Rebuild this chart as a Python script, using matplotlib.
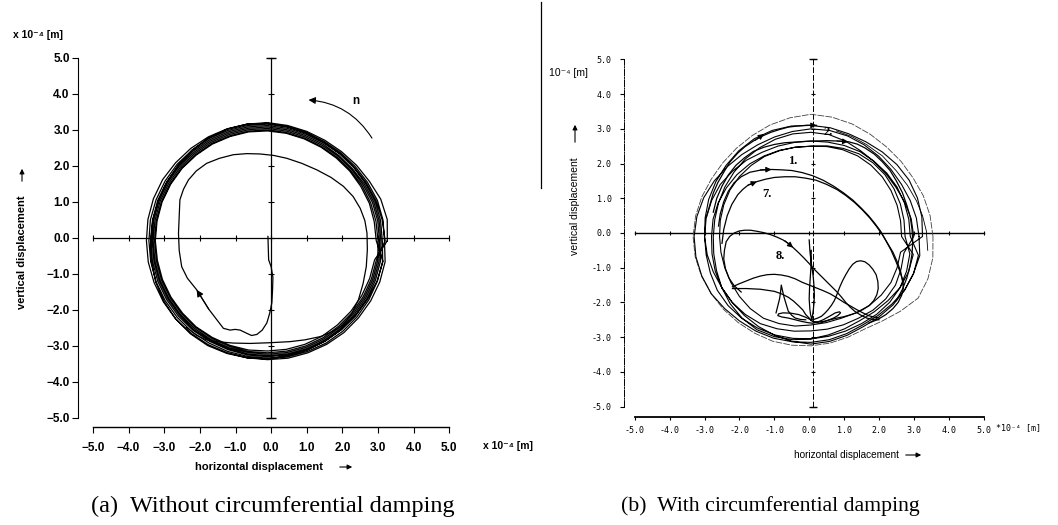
import numpy as np
import matplotlib.pyplot as plt
from matplotlib.lines import Line2D
from matplotlib.patches import FancyArrowPatch

plt.rcParams['font.family'] = ['Liberation Sans', 'DejaVu Sans']

W, H = 1058, 525

# ---------------- data (units of 1e-4 m) ----------------
ticks = [-5, -4, -3, -2, -1, 0, 1, 2, 3, 4, 5]
tick_a = ['\u22125.0', '\u22124.0', '\u22123.0', '\u22122.0', '\u22121.0', '0.0',
          '1.0', '2.0', '3.0', '4.0', '5.0']
tick_b = ['-5.0', '-4.0', '-3.0', '-2.0', '-1.0', '0.0', '1.0', '2.0', '3.0', '4.0', '5.0']

# orbit loops, read as radius at fixed angles (deg) around the orbit centre
loop_deg = [0, 10, 20, 30, 40, 50, 60, 70, 80, 90, 100, 110,
            120, 130, 140, 150, 160, 170, 180, 190, 200, 210, 220, 230,
            240, 250, 260, 270, 280, 290, 300, 310, 320, 330, 340, 350]

# (a) without circumferential damping
center_a = (-0.1, -0.08)
loops_a = [
    [3.36, 3.41, 3.38, 3.30, 3.26, 3.23, 3.22, 3.23, 3.25, 3.28, 3.29, 3.31,
     3.33, 3.35, 3.37, 3.40, 3.41, 3.41, 3.40, 3.40, 3.39, 3.38, 3.37, 3.35,
     3.33, 3.31, 3.30, 3.30, 3.31, 3.31, 3.32, 3.33, 3.33, 3.34, 3.35, 3.35],
    [3.28, 3.29, 3.28, 3.24, 3.21, 3.19, 3.18, 3.19, 3.21, 3.24, 3.25, 3.26,
     3.28, 3.29, 3.31, 3.32, 3.33, 3.34, 3.33, 3.33, 3.33, 3.32, 3.31, 3.30,
     3.28, 3.27, 3.26, 3.26, 3.27, 3.27, 3.28, 3.28, 3.28, 3.28, 3.28, 3.28],
    [3.22, 3.22, 3.21, 3.18, 3.16, 3.15, 3.14, 3.15, 3.17, 3.20, 3.21, 3.22,
     3.24, 3.25, 3.26, 3.27, 3.28, 3.28, 3.28, 3.28, 3.28, 3.27, 3.26, 3.25,
     3.23, 3.22, 3.22, 3.22, 3.22, 3.22, 3.22, 3.22, 3.22, 3.22, 3.22, 3.22],
    [3.18, 3.18, 3.17, 3.14, 3.11, 3.10, 3.10, 3.11, 3.13, 3.16, 3.17, 3.18,
     3.20, 3.21, 3.23, 3.24, 3.25, 3.25, 3.24, 3.24, 3.24, 3.23, 3.22, 3.22,
     3.20, 3.19, 3.19, 3.19, 3.19, 3.19, 3.19, 3.18, 3.18, 3.18, 3.18, 3.18],
    [3.14, 3.14, 3.13, 3.10, 3.08, 3.07, 3.06, 3.07, 3.09, 3.12, 3.13, 3.14,
     3.16, 3.17, 3.19, 3.20, 3.21, 3.21, 3.21, 3.21, 3.21, 3.20, 3.19, 3.18,
     3.17, 3.16, 3.15, 3.15, 3.15, 3.15, 3.15, 3.14, 3.14, 3.14, 3.14, 3.14],
    [3.10, 3.09, 3.08, 3.06, 3.04, 3.03, 3.02, 3.03, 3.05, 3.08, 3.09, 3.10,
     3.12, 3.13, 3.15, 3.16, 3.17, 3.17, 3.17, 3.17, 3.17, 3.16, 3.15, 3.14,
     3.13, 3.12, 3.12, 3.11, 3.11, 3.11, 3.11, 3.10, 3.10, 3.10, 3.10, 3.10],
    [3.30, 3.27, 3.24, 3.20, 3.17, 3.16, 3.16, 3.19, 3.22, 3.26, 3.29, 3.30,
     3.30, 3.29, 3.27, 3.26, 3.26, 3.27, 3.28, 3.31, 3.34, 3.36, 3.37, 3.37,
     3.36, 3.33, 3.30, 3.28, 3.25, 3.23, 3.22, 3.22, 3.23, 3.24, 3.27, 3.29],
    [3.05, 3.04, 3.04, 3.02, 3.01, 3.00, 3.00, 3.01, 3.03, 3.05, 3.07, 3.08,
     3.10, 3.11, 3.13, 3.14, 3.15, 3.15, 3.15, 3.14, 3.14, 3.13, 3.12, 3.12,
     3.10, 3.09, 3.08, 3.06, 3.06, 3.06, 3.06, 3.05, 3.05, 3.05, 3.05, 3.05],
]
start_x_a = [-0.09, -0.07, 0.0, 0.05, 0.04, 0.02, -0.04, -0.12, -0.25, -0.4, -0.55,
             -0.68, -0.87, -1.01, -1.15, -1.34, -1.75, -2.09, -2.35, -2.51, -2.58,
             -2.6, -2.58, -2.56, -2.46, -2.32, -2.1, -1.81, -1.45, -1.06, -0.68, -0.31,
             0.07, 0.44, 0.86, 1.28, 1.68, 2.03, 2.3, 2.5, 2.63, 2.69, 2.7, 2.67, 2.58,
             2.45, 2.26, 2.03, 1.72, 1.38, 0.95, 0.53, -0.03, -0.59, -1.06, -1.53,
             -1.85, -2.1, -2.38]
start_y_a = [0.04, -0.61, -0.8, -1.1, -1.44, -1.8, -2.09, -2.36, -2.56, -2.68, -2.71,
             -2.65, -2.56, -2.54, -2.56, -2.51, -1.98, -1.44, -1.12, -0.8, -0.35,
             0.13, 0.6, 1.06, 1.35, 1.61, 1.86, 2.07, 2.21, 2.31, 2.34, 2.33,
             2.29, 2.21, 2.07, 1.89, 1.68, 1.43, 1.15, 0.82, 0.48, 0.13, -0.33, -0.8,
             -1.27, -1.72, -2.1, -2.42, -2.6, -2.74, -2.83, -2.88, -2.91, -2.93, -2.92,
             -2.88, -2.82, -2.7, -2.48]
arrow_a = [(-1.75, -1.98), (-2.09, -1.44)]
n_arc = [(2.83, 2.77), (1.05, 3.83)]

# (b) with circumferential damping
center_b = (0.05, -0.1)
outer_b = [3.50, 3.47, 3.43, 3.38, 3.37, 3.37, 3.40, 3.45, 3.49, 3.52, 3.47, 3.42,
           3.36, 3.32, 3.30, 3.30, 3.33, 3.36, 3.38, 3.37, 3.34, 3.30, 3.27, 3.24,
           3.22, 3.21, 3.18, 3.15, 3.12, 3.09, 3.08, 3.18, 3.35, 3.55, 3.57, 3.55]
loops_b = [
    [3.10, 3.07, 3.03, 3.00, 3.00, 3.02, 3.05, 3.08, 3.10, 3.10, 3.07, 3.05,
     3.05, 3.08, 3.13, 3.20, 3.27, 3.32, 3.35, 3.35, 3.33, 3.30, 3.23, 3.18,
     3.15, 3.12, 3.08, 3.05, 3.02, 2.98, 2.95, 2.98, 3.03, 3.10, 3.13, 3.13],
    [2.85, 2.85, 2.85, 2.85, 2.84, 2.82, 2.82, 2.79, 2.76, 2.75, 2.75, 2.77,
     2.80, 2.87, 2.93, 3.00, 3.03, 3.05, 3.05, 3.05, 3.07, 3.10, 3.10, 3.08,
     3.05, 3.02, 2.98, 2.95, 2.92, 2.90, 2.90, 2.93, 2.95, 2.95, 2.92, 2.88],
    [2.70, 2.71, 2.73, 2.75, 2.77, 2.77, 2.75, 2.70, 2.65, 2.60, 2.61, 2.64,
     2.68, 2.73, 2.77, 2.80, 2.83, 2.85, 2.85, 2.88, 2.92, 2.95, 2.95, 2.93,
     2.90, 2.83, 2.77, 2.72, 2.71, 2.71, 2.72, 2.77, 2.80, 2.80, 2.75, 2.71],
    [2.95, 2.92, 2.87, 2.82, 2.81, 2.82, 2.85, 2.92, 2.98, 3.00, 3.00, 2.98,
     2.95, 2.92, 2.88, 2.85, 2.82, 2.80, 2.80, 2.83, 2.88, 2.95, 3.02, 3.07,
     3.10, 3.07, 3.02, 2.95, 2.88, 2.83, 2.80, 2.83, 2.88, 2.95, 2.98, 2.98],
    [2.60, 2.61, 2.63, 2.65, 2.67, 2.68, 2.68, 2.66, 2.63, 2.60, 2.61, 2.63,
     2.66, 2.67, 2.68, 2.68, 2.66, 2.64, 2.62, 2.62, 2.63, 2.65, 2.68, 2.71,
     2.72, 2.67, 2.62, 2.55, 2.52, 2.51, 2.55, 2.60, 2.63, 2.65, 2.63, 2.61],
    [3.20, 3.23, 3.25, 3.25, 3.22, 3.18, 3.15, 3.15, 3.18, 3.20, 3.23, 3.25,
     3.25, 3.22, 3.18, 3.15, 3.12, 3.08, 3.05, 3.02, 2.98, 2.95, 2.95, 2.97,
     3.00, 3.03, 3.07, 3.10, 3.07, 3.03, 3.00, 3.03, 3.07, 3.10, 3.13, 3.17],
]
curves_b = {
    '2': ([-2.95, -2.85, -2.75, -2.62, -2.45, -2.27, -2.05, -1.85, -1.6, -1.35, -1.1,
           -0.85, -0.6, -0.35, -0.1, 0.21],
          [0.45, 0.8, 1.15, 1.45, 1.75, 2.05, 2.3, 2.48, 2.65, 2.79, 2.9, 2.98, 3.05,
           3.08, 3.1, 3.1]),
    '2b': ([0.78, 1.22, 1.64, 2.1, 2.5, 2.82, 3.08, 3.25, 3.36, 3.4],
           [2.94, 2.78, 2.55, 2.22, 1.79, 1.37, 0.92, 0.5, 0.06, -0.5]),
    'top': ([-2.75, -2.65, -2.5, -2.32, -2.1, -1.85, -1.6, -1.3, -1.0, -0.7, -0.4,
             -0.1, 0.2, 0.5, 0.8, 1.12, 1.38, 1.6, 1.87, 2.1, 2.32, 2.5, 2.67, 2.8,
             2.9, 2.95, 2.97, 2.95, 2.89, 2.8, 2.67, 2.5],
            [0.6, 1.0, 1.35, 1.67, 1.95, 2.17, 2.35, 2.47, 2.55, 2.6, 2.62, 2.64, 2.65,
             2.66, 2.65, 2.63, 2.56, 2.45, 2.27, 2.05, 1.8, 1.5, 1.17, 0.8, 0.45, 0.1,
             -0.25, -0.6, -0.95, -1.3, -1.63, -1.95]),
    '1': ([-2.6, -2.55, -2.45, -2.32, -2.15, -1.95, -1.7, -1.4, -1.08, -0.8, -0.5,
           -0.2, 0.1, 0.4, 0.7, 0.98, 1.25, 1.48, 1.7, 1.88, 2.05, 2.2, 2.35, 2.48, 2.6,
           2.68, 2.7, 2.65, 2.55, 2.4, 2.2, 1.97, 1.7],
          [0.2, 0.55, 0.9, 1.2, 1.45, 1.62, 1.75, 1.81, 1.83, 1.82, 1.8, 1.74, 1.65,
           1.52, 1.35, 1.16, 0.95, 0.73, 0.5, 0.28, 0.05, -0.22, -0.5, -0.8, -1.1,
           -1.35, -1.6, -1.8, -2.0, -2.18, -2.35, -2.49, -2.6]),
    '7': ([-2.5, -2.45, -2.35, -2.22, -2.05, -1.9, -1.75, -1.5, -1.25, -1.0, -0.7,
           -0.4, -0.1, 0.2, 0.5, 0.8, 1.05, 1.3, 1.53, 1.75, 1.93, 2.1, 2.25, 2.4, 2.52,
           2.62, 2.7],
          [-0.3, 0.1, 0.5, 0.82, 1.1, 1.26, 1.38, 1.48, 1.55, 1.6, 1.62, 1.62, 1.58,
           1.52, 1.4, 1.25, 1.08, 0.88, 0.66, 0.42, 0.19, -0.05, -0.3, -0.55, -0.82,
           -1.1, -1.5]),
    '8': ([-1.95, -2.15, -2.3, -2.4, -2.45, -2.43, -2.38, -2.28, -2.15, -2.0, -1.85,
           -1.68, -1.5, -1.3, -1.1, -0.92, -0.75, -0.6, -0.46, -0.3, -0.15, 0.0, 0.15,
           0.32, 0.5, 0.65, 0.8, 0.93, 1.05, 1.17, 1.3, 1.47, 1.65, 1.83, 2.0],
          [-1.7, -1.52, -1.3, -1.03, -0.75, -0.5, -0.25, -0.1, 0.0, 0.06, 0.08, 0.08,
           0.05, 0.01, -0.05, -0.12, -0.2, -0.3, -0.42, -0.57, -0.72, -0.88, -1.05,
           -1.22, -1.4, -1.55, -1.7, -1.85, -2.0, -2.13, -2.25, -2.36, -2.45, -2.49,
           -2.5]),
    'loop': ([0.1, 0.22, 0.35, 0.45, 0.55, 0.64, 0.72, 0.8, 0.88, 0.96, 1.05, 1.15,
              1.25, 1.36, 1.48, 1.6, 1.72, 1.83, 1.92, 1.97, 1.98, 1.94, 1.85, 1.72,
              1.55, 1.38, 1.2, 1.0, 0.8, 0.6, 0.4, 0.25, 0.1],
             [-2.5, -2.46, -2.4, -2.31, -2.2, -2.08, -1.95, -1.76, -1.55, -1.37, -1.2,
              -1.03, -0.9, -0.82, -0.8, -0.83, -0.92, -1.05, -1.2, -1.4, -1.6, -1.78,
              -1.95, -2.09, -2.2, -2.29, -2.35, -2.41, -2.45, -2.5, -2.55, -2.56,
              -2.55]),
    'cross1': ([-2.2, -2.0, -1.8, -1.6, -1.4, -1.2, -1.0, -0.8, -0.6, -0.4, -0.2, 0.0,
                0.2, 0.4, 0.6, 0.8, 1.0, 1.18, 1.35, 1.52, 1.7, 1.85, 2.0],
               [-1.55, -1.46, -1.38, -1.3, -1.24, -1.2, -1.19, -1.21, -1.25, -1.32, -1.42,
                -1.5, -1.58, -1.66, -1.75, -1.87, -2.0, -2.1, -2.2, -2.29, -2.38, -2.42,
                -2.45]),
    'cross2': ([-2.2, -2.0, -1.8, -1.6, -1.4, -1.2, -1.0, -0.8, -0.6, -0.45, -0.3,
                -0.18, -0.1, 0.05],
               [-1.6, -1.6, -1.6, -1.61, -1.62, -1.65, -1.68, -1.75, -1.85, -1.96, -2.1,
                -2.22, -2.35, -2.5]),
    'spike': ([-0.95, -0.9, -0.85, -0.82, -0.8, -0.76, -0.72, -0.66, -0.6, -0.5, -0.4,
               -0.25, -0.1],
              [-2.3, -2.1, -1.9, -1.7, -1.5, -1.68, -1.85, -2.05, -2.25, -2.37, -2.45,
               -2.49, -2.5]),
    'petals': ([0.05, -0.12, -0.3, -0.52, -0.75, -0.88, -0.9, -0.78, -0.6, -0.4, -0.2,
                -0.05, 0.1, 0.25, 0.4, 0.58, 0.75, 0.87, 0.9, 0.82, 0.7, 0.5, 0.3, 0.15,
                0.05],
               [-2.5, -2.42, -2.35, -2.31, -2.3, -2.33, -2.38, -2.42, -2.45, -2.5, -2.55,
                -2.58, -2.6, -2.56, -2.5, -2.4, -2.3, -2.27, -2.3, -2.38, -2.45, -2.53,
                -2.6, -2.57, -2.52]),
    'stem': ([0.0, 0.02, 0.05, 0.09, 0.12, 0.14, 0.15, 0.14, 0.12, 0.1, 0.08, 0.04,
              0.02, 0.0, 0.01, 0.03, 0.05, 0.06],
             [-0.2, -0.5, -0.8, -1.05, -1.3, -1.55, -1.8, -2.0, -2.2, -2.35, -2.5, -2.35,
              -2.2, -1.9, -1.6, -1.3, -1.0, -0.5]),
}
arrows_b = [((-0.1, 3.1), (0.21, 3.1)), ((0.8, 2.65), (1.12, 2.63)),
            ((-1.4, 1.82), (-1.08, 1.83)), ((-1.75, 1.38), (-1.5, 1.48)),
            ((-0.7, -0.22), (-0.46, -0.42)), ((-1.55, 2.67), (-1.3, 2.85))]
labels_b = [('2.', 0.55, 2.92), ('1.', -0.46, 2.07), ('7.', -1.22, 1.11), ('8.', -0.84, -0.66)]


def loop_xy(center, radii):
    th = np.deg2rad(loop_deg)
    return center[0] + np.array(radii) * np.cos(th), center[1] + np.array(radii) * np.sin(th)


def chain(center, loops):
    xs, ys = [], []
    for r in loops:
        lx, ly = loop_xy(center, r)
        xs += list(lx)
        ys += list(ly)
    return xs + [xs[0]], ys + [ys[0]]


def head(ax, tail, tip, ms=9):
    ax.annotate('', xy=tip, xytext=tail,
                arrowprops=dict(arrowstyle='-|>', color='k', lw=0.8,
                                mutation_scale=ms, shrinkA=0, shrinkB=0))


fig = plt.figure(figsize=(W / 100, H / 100), dpi=100)

# ================= panel (a) =================
ax = fig.add_axes([78 / W, 98 / H, 382 / W, 380 / H])
ax.set_xlim(-5.42, 5.3)
ax.set_ylim(-5.25, 5.3)
for s in ['top', 'right']:
    ax.spines[s].set_visible(False)
ax.spines['left'].set_bounds(-5, 5)
ax.spines['bottom'].set_bounds(-5, 5)
ax.spines['left'].set_linewidth(0.8)
ax.spines['bottom'].set_linewidth(1.0)
ax.set_xticks(ticks, tick_a)
ax.set_yticks(ticks, tick_a)
ax.tick_params(axis='y', length=4.5, width=0.8, pad=1.5, labelsize=8.5)
ax.tick_params(axis='x', length=4, width=0.8, pad=7, labelsize=8.5)
for t in ax.get_xticklabels() + ax.get_yticklabels():
    t.set_fontweight('bold')

# crosshair
ax.plot([-5, 5], [0, 0], color='k', lw=0.9)
ax.plot([0, 0], [-5, 5], color='k', lw=0.9)
ax.plot(ticks, [0] * len(ticks), ls='none', marker='|', ms=4, color='k', mew=0.8)
ax.plot([0] * len(ticks), ticks, ls='none', marker='_', ms=4, color='k', mew=0.8)
ax.plot([0, 0], [-5, 5], ls='none', marker='_', ms=7, color='k', mew=1)

ring_x, ring_y = chain(center_a, loops_a)
ax.plot(ring_x, ring_y, color='k', lw=0.9)
ax.plot(start_x_a, start_y_a, color='k', lw=0.9)
head(ax, arrow_a[0], arrow_a[1], ms=10)
ax.annotate('', xy=n_arc[1], xytext=n_arc[0],
            arrowprops=dict(arrowstyle='-|>', color='k', lw=0.8, mutation_scale=10,
                            shrinkA=0, shrinkB=0, connectionstyle='arc3,rad=0.25'))
ax.text(2.39, 3.79, 'n', fontsize=8.5, fontweight='bold', ha='center', va='center')

# ================= panel (b) =================
bx = fig.add_axes([624 / W, 108 / H, 370 / W, 368 / H])
bx.set_xlim(-5.31, 5.3)
bx.set_ylim(-5.3, 5.3)
for s in ['top', 'right']:
    bx.spines[s].set_visible(False)
bx.spines['left'].set_bounds(-5, 5)
bx.spines['bottom'].set_bounds(-5, 5)
bx.spines['left'].set_linestyle((0, (7, 1.5, 1, 1.5)))
bx.spines['left'].set_linewidth(0.7)
bx.spines['bottom'].set_linewidth(1.3)
bx.set_xticks(ticks, tick_b)
bx.set_yticks(ticks, tick_b)
bx.tick_params(axis='y', length=3, width=0.8, pad=6, labelsize=6)
bx.tick_params(axis='x', length=2.5, width=0.8, pad=4, labelsize=6)
for t in bx.get_xticklabels() + bx.get_yticklabels():
    t.set_fontfamily('DejaVu Sans Mono')

bx.plot([-5, 5], [0, 0], color='k', lw=1.0)
bx.plot([0.11, 0.11], [-5, 5], color='k', lw=0.7, ls=(0, (6, 2)))
bx.plot(ticks, [0] * len(ticks), ls='none', marker='|', ms=3.5, color='k', mew=0.8)
bx.plot([0.11] * len(ticks), ticks, ls='none', marker='_', ms=3.5, color='k', mew=0.8)
bx.plot([0.11, 0.11], [-5, 5], ls='none', marker='_', ms=6, color='k', mew=1)

ox, oy = loop_xy(center_b, outer_b)
bx.plot(list(ox) + [ox[0]], list(oy) + [oy[0]], color='0.25', lw=0.6, ls=(0, (8, 1.5)))
orb_x, orb_y = chain(center_b, loops_b)
bx.plot(orb_x, orb_y, color='k', lw=0.8)
for key, (cx, cy) in curves_b.items():
    lw = 0.6 if key == '2b' else 0.9
    bx.plot(cx, cy, color='k', lw=lw)
for tail, tip in arrows_b:
    head(bx, tail, tip, ms=8)
for s, x, y in labels_b:
    bx.text(x, y, s, family='Liberation Serif', fontweight='bold', fontsize=9,
            ha='center', va='center')


# ================= figure texts =================
def fx(px):
    return px / W


def fy(py):
    return 1 - py / H


# panel (a)
fig.text(fx(13), fy(35), 'x 10\u207b\u2074 [m]', fontsize=7.5, fontweight='bold', va='center')
fig.text(fx(22), fy(252), 'vertical displacement', rotation=90, fontsize=8,
         fontweight='bold', ha='center', va='center')
fig.text(fx(483), fy(446), 'x 10\u207b\u2074 [m]', fontsize=7.5, fontweight='bold', va='center')
fig.text(fx(259), fy(467), 'horizontal displacement', fontsize=8, fontweight='bold',
         ha='center', va='center')
fig.text(fx(273), fy(506), '(a)  Without circumferential damping', family='Liberation Serif',
         fontsize=17.5, ha='center', va='center')

# panel (b)
fig.text(fx(549), fy(73), '10\u207b\u2074 [m]', fontsize=7.5, va='center')
fig.text(fx(575), fy(206), 'vertical displacement', rotation=90, fontsize=7.5,
         ha='center', va='center')
fig.text(fx(996), fy(428), '*10\u207b\u2074 [m]', family='DejaVu Sans Mono', fontsize=6,
         va='center')
fig.text(fx(847), fy(455), 'horizontal displacement', fontsize=7.2, ha='center', va='center')
fig.text(fx(770), fy(506), '(b)  With circumferential damping', family='Liberation Serif',
         fontsize=15.7, ha='center', va='center')

# axis-label arrows
for tail, tip in [((22, 184), (22, 166)), ((337, 467), (355, 467)),
                  ((575, 145), (575, 122)), ((903, 455), (924, 455))]:
    fig.add_artist(FancyArrowPatch(
        (fx(tail[0]), fy(tail[1])), (fx(tip[0]), fy(tip[1])), transform=fig.transFigure,
        arrowstyle='-|>', mutation_scale=7, lw=0.8, color='k'))

# stray scan line at top of right panel
fig.add_artist(Line2D([fx(541), fx(541)], [fy(2), fy(188)], color='k', lw=0.9))

fig.savefig('out.png', dpi=100)
